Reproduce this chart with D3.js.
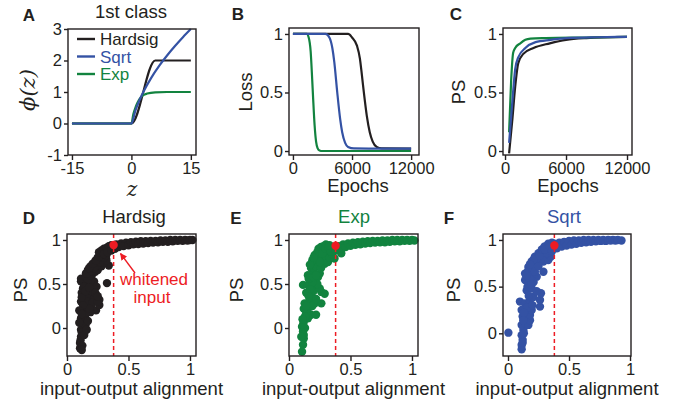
<!DOCTYPE html>
<html>
<head>
<meta charset="utf-8">
<script src="https://cdn.jsdelivr.net/npm/d3@7"></script>
<style>
  body { margin: 0; background: #fff; }
  svg text { font-family: "Liberation Sans", Arial, sans-serif; fill: #231f20; }
</style>
</head>
<body>
<div id="fig"></div>
<script>
// ---------- values ----------
// A: activation functions, [z, phi(z)]
var hardsigAct = [[-15,0],[0,0],[6,2],[15,2]];
var sqrtAct = [[-15,0],[0,0],[1,0.41],[2,0.73],[3,1],[5,1.45],[7,1.83],[9,2.16],[11,2.46],[13,2.74],[15,3]];
var expAct = [[-15,0],[0,0],[0.5,0.3],[1,0.5],[1.5,0.65],[2,0.77],[3,0.9],[4,0.95],[6,0.99],[9,1],[15,1]];

// B: loss vs epochs
var lossHardsig = [[0,1],[5600,1],[6000,0.97],[6500,0.9],[6800,0.79],[7000,0.65],[7200,0.5],[7500,0.3],[7800,0.16],[8100,0.08],[8500,0.035],[9000,0.022],[12000,0.02]];
var lossSqrt = [[0,1],[3300,1],[3700,0.97],[4000,0.88],[4200,0.76],[4500,0.5],[4800,0.27],[5000,0.16],[5300,0.07],[5600,0.035],[6200,0.022],[12000,0.02]];
var lossExp = [[0,1],[1400,1],[1600,0.97],[1800,0.85],[1950,0.62],[2050,0.45],[2200,0.22],[2350,0.08],[2500,0.025],[2700,0.005],[3000,0],[12000,0]];

// C: PS vs epochs
var psHardsig = [[400,-0.02],[700,0.25],[1000,0.55],[1300,0.75],[1800,0.83],[2800,0.88],[4400,0.92],[6000,0.95],[8000,0.965],[12000,0.975]];
var psSqrt = [[400,0.07],[700,0.4],[1000,0.7],[1300,0.8],[2000,0.88],[3000,0.93],[4500,0.95],[6000,0.965],[9000,0.972],[12000,0.975]];
var psExp = [[400,0.16],[600,0.6],[800,0.84],[1000,0.88],[1500,0.92],[2000,0.95],[2500,0.96],[4000,0.965],[8000,0.97],[12000,0.975]];

// D-F: [input-output alignment, PS] for each network
var scatterHardsig = [
  [0.106,-0.23],[0.106,-0.17],[0.114,-0.1],[0.114,-0.02],[0.127,0.05],[0.114,0.11],[0.154,0.09],[0.14,0.2],
  [0.114,0.3],[0.154,0.28],[0.195,0.24],[0.236,0.2],[0.263,0.26],[0.263,0.32],[0.236,0.375],[0.176,0.375],
  [0.14,0.375],[0.168,0.43],[0.209,0.47],[0.114,0.53],[0.114,0.56],[0.18,0.51],[0.22,0.53],[0.154,0.62],
  [0.325,0.51],[0.34,0.71],[0.317,0.79],[0.12,0.4],[0.13,0.45],[0.16,0.35],[0.2,0.42],[0.22,0.33],
  [0.17,0.3],[0.19,0.18],[0.15,0.15],[0.13,0.0],[0.12,-0.05],[0.15,0.03],[0.17,0.08],[0.11,-0.14],
  [0.125,-0.2],[0.21,0.29],[0.25,0.3],[0.18,0.22],[0.13,0.26],[0.16,0.5],[0.2,0.55],[0.24,0.47],
  [0.15,0.58],[0.17,0.55],[0.19,0.6],[0.21,0.62],[0.23,0.64],[0.25,0.66],[0.28,0.7],[0.3,0.74],
  [0.32,0.77],[0.19,0.64],[0.14,0.47],[0.12,0.35],[0.15,0.42],[0.18,0.46],[0.23,0.4],[0.25,0.36],
  [0.1,0.2],[0.1,0.06],[0.12,0.16],[0.14,-0.08],[0.16,-0.02],[0.12,-0.25],
  [0.17,0.66],[0.19,0.7],[0.21,0.72],[0.23,0.76],[0.25,0.8],[0.27,0.83],[0.29,0.87],[0.16,0.62],
  [0.2,0.65],[0.24,0.7],[0.27,0.75],[0.3,0.8],[0.32,0.83],[0.22,0.68],[0.18,0.68],[0.209,0.73],
  [0.236,0.77],[0.263,0.81],
  [0.26,0.86],[0.28,0.88],[0.3,0.9],[0.32,0.91],[0.34,0.93],[0.36,0.94],[0.3,0.84],[0.33,0.86],
  [0.36,0.88],[0.39,0.9],[0.42,0.92],[0.4,0.95],[0.44,0.96],[0.48,0.97],[0.46,0.93],[0.5,0.94],
  [0.52,0.975],[0.54,0.95],[0.56,0.98],[0.58,0.955],[0.6,0.985],[0.62,0.96],[0.64,0.985],[0.66,0.965],
  [0.68,0.99],[0.7,0.97],[0.72,0.99],[0.74,0.975],[0.76,0.995],[0.78,0.98],[0.8,0.995],[0.82,0.98],
  [0.84,1.0],[0.86,0.985],[0.88,1.0],[0.9,0.99],[0.92,1.0],[0.94,0.99],[0.96,1.0],[0.98,0.995],
  [1.0,1.0],[1.02,1.0]
];
var scatterExp = [
  [0.106,-0.27],[0.114,-0.19],[0.12,-0.12],[0.114,-0.04],[0.106,0.015],[0.12,0.07],[0.154,0.11],[0.18,0.15],
  [0.22,0.15],[0.14,0.17],[0.154,0.22],[0.127,0.28],[0.168,0.32],[0.209,0.28],[0.263,0.28],[0.18,0.375],
  [0.114,0.49],[0.154,0.49],[0.209,0.47],[0.263,0.41],[0.29,0.39],[0.154,0.6],[0.209,0.545],[0.236,0.58],
  [0.18,0.68],[0.209,0.75],[0.236,0.81],[0.209,0.83],[0.263,0.87],[0.29,0.73],[0.317,0.75],[0.37,0.79],
  [0.425,0.85],[0.13,0.0],[0.12,-0.08],[0.115,0.04],[0.13,0.13],[0.19,0.25],[0.22,0.33],[0.2,0.42],
  [0.25,0.45],[0.23,0.5],[0.19,0.52],[0.17,0.44],[0.25,0.62],[0.2,0.63],[0.22,0.7],[0.26,0.68],
  [0.28,0.78],[0.25,0.75],[0.3,0.82],[0.33,0.8],[0.35,0.84],[0.19,0.77],[0.23,0.86],
  [0.16,0.56],[0.18,0.6],[0.2,0.58],[0.22,0.6],[0.17,0.72],[0.2,0.8],[0.24,0.9],[0.26,0.92],
  [0.28,0.93],[0.3,0.95],[0.14,0.4],[0.16,0.36],[0.12,0.22],[0.14,0.25],[0.1,-0.1],[0.11,0.1],
  [0.27,0.85],[0.3,0.9],[0.32,0.92],[0.34,0.87],[0.33,0.94],[0.38,0.88],[0.4,0.93],[0.42,0.9],
  [0.44,0.95],[0.46,0.92],[0.48,0.96],[0.5,0.935],[0.52,0.97],[0.54,0.945],[0.56,0.975],[0.58,0.95],
  [0.6,0.98],[0.62,0.96],[0.64,0.985],[0.66,0.965],[0.68,0.99],[0.7,0.97],[0.72,0.99],[0.74,0.975],
  [0.76,0.995],[0.78,0.975],[0.8,0.995],[0.82,0.98],[0.84,1.0],[0.86,0.985],[0.88,1.0],[0.9,0.985],
  [0.92,1.0],[0.94,0.99],[0.96,1.0],[0.98,0.99],[1.0,1.0],[1.02,0.995]
];
var scatterSqrt = [
  [0.003,0.007],[0.112,-0.17],[0.112,-0.125],[0.12,-0.07],[0.112,-0.02],[0.126,0.036],[0.112,0.09],[0.14,0.107],
  [0.167,0.09],[0.18,0.14],[0.12,0.18],[0.148,0.21],[0.112,0.25],[0.18,0.196],[0.194,0.25],[0.098,0.34],
  [0.14,0.32],[0.18,0.357],[0.208,0.39],[0.262,0.286],[0.262,0.357],[0.27,0.43],[0.153,0.46],[0.194,0.48],
  [0.235,0.45],[0.14,0.57],[0.167,0.607],[0.14,0.64],[0.208,0.625],[0.235,0.607],[0.29,0.66],[0.18,0.68],
  [0.167,0.71],[0.194,0.77],[0.235,0.75],[0.22,0.82],[0.25,0.857],[0.29,0.77],[0.33,0.786],[0.276,0.89],
  [0.317,0.93],[0.13,0.0],[0.125,0.14],[0.16,0.28],[0.2,0.3],[0.17,0.4],[0.21,0.55],[0.18,0.58],
  [0.16,0.66],[0.2,0.7],[0.22,0.66],[0.25,0.72],[0.27,0.8],[0.3,0.84],[0.24,0.8],[0.21,0.79],
  [0.35,0.82],[0.32,0.86],[0.16,0.5],[0.19,0.52],[0.15,0.62],[0.18,0.74],[0.26,0.83],[0.28,0.9],
  [0.3,0.93],[0.33,0.96],[0.36,0.97],[0.13,0.22],[0.12,-0.1],
  [0.3,0.9],[0.34,0.93],[0.36,0.88],[0.38,0.96],[0.4,0.91],[0.42,0.97],[0.44,0.93],[0.46,0.98],
  [0.48,0.94],[0.5,0.99],[0.52,0.95],[0.54,0.995],[0.56,0.96],[0.58,0.995],[0.6,0.97],[0.62,1.0],
  [0.64,0.975],[0.66,1.0],[0.68,0.98],[0.7,1.0],[0.72,0.985],[0.74,1.0],[0.76,0.99],[0.78,1.0],
  [0.8,0.99],[0.82,1.0],[0.84,0.995],[0.86,1.0],[0.88,0.995],[0.9,1.0],[0.93,0.995]
];
// whitened input: alignment and PS for each of D, E, F
var whitenedAlign = [0.379, 0.379, 0.38];
var whitenedPS = [0.943, 0.935, 0.94];

var zTicks = [-15, 0, 15], phiTicks = [-1, 0, 1, 2, 3];
var epochTicks = [0, 6000, 12000], unitTicks = [0, 0.5, 1];

// ---------- drawing ----------
var ink = "#231f20", cBlack = "#231f20", cBlue = "#3452a4", cGreen = "#12833f", cRed = "#ed1c24";

var svg = d3.select("#fig").append("svg")
    .attr("width", 696)
    .attr("height", 407);

function fmt(d) { return String(d); }

// a boxed panel with outward ticks on left and bottom
function panel(box, xdom, ydom, xticks, yticks) {
  var x = d3.scaleLinear().domain(xdom).range([box.x, box.x + box.w]);
  var y = d3.scaleLinear().domain(ydom).range([box.y + box.h, box.y]);
  var g = svg.append("g");

  var xa = g.append("g")
      .attr("transform", "translate(0," + (box.y + box.h) + ")")
      .call(d3.axisBottom(x).tickValues(xticks).tickSize(5).tickPadding(2).tickFormat(fmt));
  var ya = g.append("g")
      .attr("transform", "translate(" + box.x + ",0)")
      .call(d3.axisLeft(y).tickValues(yticks).tickSize(4).tickPadding(2).tickFormat(fmt));
  [xa, ya].forEach(function(a) {
    a.select(".domain").remove();
    a.selectAll("line").attr("stroke", ink).attr("stroke-width", 1.4);
    a.selectAll("text").style("font-size", "16.5px").attr("fill", ink);
  });

  var plot = g.append("g");
  g.append("rect")
      .attr("x", box.x).attr("y", box.y)
      .attr("width", box.w).attr("height", box.h)
      .attr("fill", "none").attr("stroke", ink).attr("stroke-width", 1.4);
  return {x: x, y: y, g: plot};
}

function drawLine(p, pts, color, w) {
  var line = d3.line()
      .x(function(d) { return p.x(d[0]); })
      .y(function(d) { return p.y(d[1]); })
      .curve(d3.curveMonotoneX);
  p.g.append("path")
      .datum(pts)
      .attr("d", line)
      .attr("fill", "none")
      .attr("stroke", color)
      .attr("stroke-width", w || 2.2);
}

function label(txt, x, y, opts) {
  opts = opts || {};
  var t = svg.append("text")
      .attr("x", x).attr("y", y)
      .attr("text-anchor", opts.anchor || "middle")
      .style("font-size", (opts.size || 18.5) + "px")
      .text(txt);
  if (opts.color) t.style("fill", opts.color);
  if (opts.bold) t.style("font-weight", "bold");
  if (opts.rotate) t.attr("transform", "rotate(-90," + x + "," + y + ")");
  if (opts.serif) t.style("font-family", "'DejaVu Serif', 'Liberation Serif', serif").style("font-style", "italic");
  return t;
}

// ---- A ----
var pA = panel({x: 68, y: 29, w: 128, h: 126}, [-16, 16.3], [-1, 3], zTicks, phiTicks);
drawLine(pA, hardsigAct, cBlack);
drawLine(pA, expAct, cGreen);
drawLine(pA, sqrtAct, cBlue);

var legend = [["Hardsig", cBlack], ["Sqrt", cBlue], ["Exp", cGreen]];
legend.forEach(function(l, i) {
  var yy = 39 + i * 17.5;
  svg.append("line")
      .attr("x1", 77).attr("x2", 95).attr("y1", yy).attr("y2", yy)
      .attr("stroke", l[1]).attr("stroke-width", 2.4);
  label(l[0], 100, yy + 6, {anchor: "start", size: 17, color: l[1]});
});
label("1st class", 131, 18, {size: 18.5});
label("ϕ(z)", 35, 90, {rotate: true, serif: true, size: 21});
label("z", 132, 196, {serif: true, size: 20});

// ---- B ----
var pB = panel({x: 289, y: 28, w: 130, h: 127}, [-400, 12800], [-0.034, 1.051], epochTicks, unitTicks);
drawLine(pB, lossExp, cGreen);
drawLine(pB, lossHardsig, cBlack);
drawLine(pB, lossSqrt, cBlue);
label("Loss", 252, 92, {rotate: true});
label("Epochs", 358, 192);

// ---- C ----
var pC = panel({x: 503, y: 28, w: 129, h: 127}, [-200, 12490], [-0.034, 1.051], epochTicks, unitTicks);
drawLine(pC, psHardsig, cBlack);
drawLine(pC, psExp, cGreen);
drawLine(pC, psSqrt, cBlue);
label("PS", 465, 92, {rotate: true});
label("Epochs", 568, 192);

// ---- D, E, F ----
var scatters = [
  {box: {x: 67, y: 234, w: 129, h: 122}, xdom: [0, 1.049], ydom: [-0.318, 1.068], pts: scatterHardsig, color: cBlack,
   title: "Hardsig", tcol: ink, tx: 134, ly: 27},
  {box: {x: 289, y: 234, w: 129, h: 122}, xdom: [0, 1.049], ydom: [-0.318, 1.068], pts: scatterExp, color: cGreen,
   title: "Exp", tcol: cGreen, tx: 354, ly: 243},
  {box: {x: 503, y: 234, w: 128, h: 122}, xdom: [-0.041, 1.008], ydom: [-0.243, 1.064], pts: scatterSqrt, color: cBlue,
   title: "Sqrt", tcol: cBlue, tx: 564, ly: 460}
];

scatters.forEach(function(s, i) {
  var p = panel(s.box, s.xdom, s.ydom, unitTicks, unitTicks);
  p.g.selectAll("circle.pt")
      .data(s.pts)
      .enter().append("circle")
      .attr("class", "pt")
      .attr("cx", function(d) { return p.x(d[0]); })
      .attr("cy", function(d) { return p.y(d[1]); })
      .attr("r", 4.2)
      .attr("fill", s.color);

  var wx = p.x(whitenedAlign[i]);
  p.g.append("line")
      .attr("x1", wx).attr("x2", wx)
      .attr("y1", s.box.y).attr("y2", s.box.y + s.box.h)
      .attr("stroke", cRed).attr("stroke-width", 1.5)
      .attr("stroke-dasharray", "4,3");
  p.g.append("circle")
      .attr("cx", wx).attr("cy", p.y(whitenedPS[i]))
      .attr("r", 4.2).attr("fill", cRed);

  label(s.title, s.tx, 223, {color: s.tcol});
  label("PS", s.ly, 290, {rotate: true});
  label("input-output alignment", s.box.x + s.box.w / 2, 395);
});

// annotation in D
svg.append("defs").append("marker")
    .attr("id", "ah")
    .attr("viewBox", "0 0 10 10")
    .attr("refX", 9).attr("refY", 5)
    .attr("markerWidth", 5).attr("markerHeight", 5)
    .attr("orient", "auto")
  .append("path")
    .attr("d", "M0,0 L10,5 L0,10 z")
    .attr("fill", cRed);
svg.append("line")
    .attr("x1", 135).attr("y1", 273)
    .attr("x2", 120.5).attr("y2", 253.5)
    .attr("stroke", cRed).attr("stroke-width", 1.4)
    .attr("marker-end", "url(#ah)");
label("whitened", 154, 285, {size: 17, color: cRed});
label("input", 152, 303, {size: 17, color: cRed});

// panel letters
[["A", 29, 21], ["B", 238, 20], ["C", 456, 20], ["D", 29, 224], ["E", 236, 224], ["F", 449, 224]].forEach(function(l) {
  label(l[0], l[1], l[2], {bold: true, size: 17});
});
</script>
</body>
</html>
